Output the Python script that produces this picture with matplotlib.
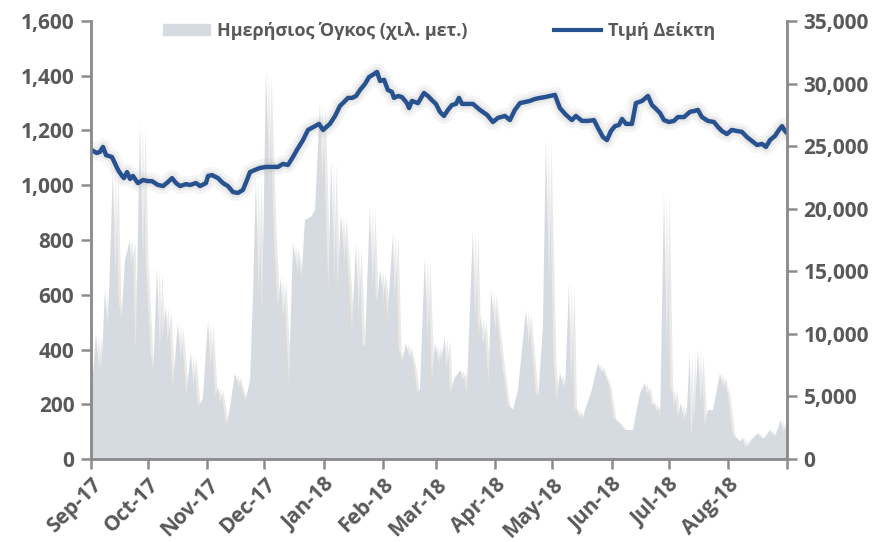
import numpy as np
import matplotlib
matplotlib.use("Agg")
import matplotlib.pyplot as plt
import matplotlib.patheffects as pe
from matplotlib.lines import Line2D
import pandas as pd

# data (days counted from 1 Sep 2017)
start = pd.Timestamp("2017-09-01")

price_day = [0, 3.1, 4.7, 6.3, 7.9, 11.0, 14.2, 16.3, 17.3, 18.9, 20.5, 22.0, 24.6, 27.3, 29.9,
             32.0, 35.1, 37.8, 40.4, 42.5, 44.6, 46.7, 49.8, 52.0, 55.1, 57.2, 60.3, 61.4, 63.5,
             66.6, 69.2, 71.8, 74.5, 77.1, 79.7, 81.8, 83.4, 86.0, 88.6, 91.8, 95.0, 98.1, 100.7,
             103.3, 105.9, 108.0, 111.2, 113.8, 117.5, 119.6, 121.7, 125.3, 128.0, 130.6, 132.7,
             134.8, 136.9, 139.0, 141.1, 143.7, 145.8, 148.4, 150.0, 151.6, 153.7, 155.7, 157.8,
             158.9, 161.0, 163.1, 165.7, 166.8, 168.3, 171.5, 174.6, 176.7, 178.8, 180.9, 183.0,
             185.1, 187.2, 189.3, 191.4, 193.0, 194.6, 197.2, 200.3, 204.0, 207.7, 210.8, 213.4,
             217.1, 219.7, 222.3, 225.0, 227.6, 230.2, 232.8, 235.5, 238.1, 243.3, 245.9, 249.1,
             252.2, 254.3, 257.5, 260.6, 263.8, 265.9, 268.5, 270.6, 272.7, 274.8, 276.9, 278.5,
             280.6, 283.7, 285.8, 289.0, 292.1, 294.2, 296.3, 298.4, 300.5, 303.1, 305.7, 307.8,
             311.0, 314.1, 316.2, 318.3, 320.4, 323.5, 326.7, 328.8, 330.9, 333.5, 336.1, 338.8,
             341.4, 344.0, 346.6, 349.3, 351.9, 354.0, 356.1, 358.7, 360.8, 362.4, 364.0, 365.0]
price = [1129, 1118, 1122, 1140, 1110, 1103, 1056, 1034, 1026, 1048, 1023, 1034, 1008, 1019, 1015,
         1015, 1001, 997, 1012, 1026, 1008, 997, 1004, 1001, 1008, 997, 1008, 1034, 1037,
         1026, 1008, 997, 975, 972, 983, 1019, 1048, 1056, 1063, 1067, 1067, 1067, 1078,
         1074, 1103, 1129, 1165, 1202, 1216, 1224, 1202, 1224, 1253, 1290, 1304,
         1319, 1319, 1326, 1348, 1370, 1395, 1406, 1414, 1381, 1385, 1348, 1341,
         1319, 1326, 1322, 1300, 1282, 1308, 1300, 1337, 1326, 1311, 1297, 1268,
         1253, 1275, 1293, 1297, 1319, 1297, 1297, 1297, 1275, 1257, 1231, 1246,
         1253, 1238, 1275, 1300, 1304, 1308, 1315, 1319, 1322, 1330, 1282, 1257,
         1238, 1253, 1235, 1235, 1238, 1209, 1176, 1165, 1198, 1216, 1220, 1242,
         1224, 1224, 1300, 1308, 1326, 1293, 1279, 1264, 1238, 1231, 1235, 1249,
         1249, 1268, 1271, 1275, 1249, 1235, 1231, 1213, 1198, 1187, 1202, 1198,
         1195, 1176, 1162, 1147, 1151, 1140, 1165, 1180, 1202, 1216, 1198, 1191]

vol_day = [0, 2.6, 5.2, 7.3, 8.9, 11.5, 13.1, 15.7, 17.8, 20.5, 22.0, 23.6, 25.7, 27.3, 29.9,
           32.5, 34.6, 36.2, 39.3, 42.0, 45.6, 49.3, 52.4, 54.5, 55.6, 58.7, 61.4, 64.0, 66.6,
           70.3, 72.9, 75.5, 78.1, 80.8, 83.4, 85.0, 86.5, 89.1, 91.8, 94.4, 97.0, 99.6, 103.3,
           105.9, 110.1, 112.2, 115.4, 117.5, 120.1, 122.7, 124.3, 125.9, 128.5, 131.1, 133.7,
           136.3, 139.0, 141.1, 143.7, 146.3, 147.9, 150.0, 151.6, 153.1, 154.7, 158.4, 160.0,
           162.6, 165.2, 167.8, 169.9, 172.5, 175.1, 177.8, 180.4, 183.0, 185.6, 187.2, 188.8,
           190.9, 194.0, 196.7, 200.3, 201.9, 204.5, 208.2, 209.8, 214.5, 217.1, 221.3, 223.9,
           228.1, 231.8, 234.4, 237.0, 238.6, 241.2, 243.3, 245.9, 248.6, 250.7, 252.2, 254.3,
           257.0, 259.6, 262.2, 265.9, 270.1, 272.7, 275.3, 277.9, 280.6, 284.2, 287.9, 290.5,
           293.1, 295.8, 298.4, 300.5, 302.6, 304.7, 306.8, 309.4, 312.0, 314.1, 314.6, 316.7,
           318.3, 320.9, 323.5, 326.2, 329.9, 332.5, 335.1, 337.7, 340.3, 341.9, 343.5, 346.1,
           349.8, 352.4, 356.1, 358.7, 361.8, 363.9, 365.0]
volume = [4470, 10070, 5750, 13500, 10550, 23100, 12700, 10300, 15900, 17500, 8150, 9500, 26850, 15900, 8470,
          6070, 15340, 8470, 12150, 4150, 10870, 4070, 8470, 4710, 3910, 4870, 11100, 4470, 5750,
          2080, 4150, 6870, 5510, 4470, 6310, 13260, 22530, 6070, 31080, 18540, 10550, 14540, 3280,
          17260, 13740, 19100, 19340, 19900, 28440, 15340, 11100, 23900, 10870, 19650, 14540,
          8470, 17260, 8950, 9110, 20130, 13260, 12150, 15100, 13500, 9500, 18060, 8950,
          7350, 9270, 7670, 5270, 5510, 16140, 4470, 9270, 7350, 9750, 4470, 5510,
          6550, 7110, 3910, 18300, 8710, 11350, 4150, 13500, 7350, 4470, 3910, 5510,
          11900, 5510, 4710, 10550, 25490, 7990, 3670, 6870, 5510, 14060, 3120, 4150,
          2880, 4150, 5270, 7670, 6070, 3360, 3120, 2560, 2320, 2320, 5270, 6070,
          4150, 4470, 2320, 21250, 4470, 5750, 2560, 4470, 2320, 8710, 1520, 3910,
          8710, 1760, 3910, 3910, 6870, 5270, 2080, 1760, 1280, 1760, 720, 1520,
          2080, 1520, 2320, 1760, 3120, 1760, 1760]

month_ticks = pd.date_range("2017-09-01", "2018-09-01", freq="MS")
month_labels = ["Sep-17", "Oct-17", "Nov-17", "Dec-17", "Jan-18", "Feb-18", "Mar-18",
                "Apr-18", "May-18", "Jun-18", "Jul-18", "Aug-18", ""]

price_dates = start + pd.to_timedelta(price_day, unit="D")
vol_dates = start + pd.to_timedelta(vol_day, unit="D")

grey = "#595959"
blue = "#27528f"
plt.rcParams['font.family'] = ['Open Sans', 'DejaVu Sans']

fig = plt.figure(figsize=(8.79, 5.42), dpi=100)
ax = fig.add_axes([0.1035, 0.1531, 0.7918, 0.8082])
ax2 = ax.twinx()

# volume area (right axis), drawn under the line
area = ax2.fill_between(vol_dates, volume, 0, color="#d6dbe2", linewidth=0)
area.set_path_effects([pe.SimplePatchShadow(offset=(4, -3), shadow_rgbFace="#8a8a8a", alpha=0.18),
                       pe.SimplePatchShadow(offset=(2, -1), shadow_rgbFace="#9a9a9a", alpha=0.18),
                       pe.Normal()])

# price line (left axis), soft shadow
ax.plot(price_dates, price, color="#b0b0b0", linewidth=12, alpha=0.12,
        solid_capstyle="round", zorder=1)
ax.plot(price_dates, price, color="#a0a0a0", linewidth=7, alpha=0.15,
        solid_capstyle="round", zorder=1)
ax.plot(price_dates, price, color=blue, linewidth=3.2, zorder=2)
ax.set_zorder(ax2.get_zorder() + 1)
ax.patch.set_visible(False)

ax.set_ylim(0, 1600)
ax.set_yticks(np.arange(0, 1601, 200))
ax.yaxis.set_major_formatter(matplotlib.ticker.StrMethodFormatter("{x:,.0f}"))
ax2.set_ylim(0, 35000)
ax2.set_yticks(np.arange(0, 35001, 5000))
ax2.yaxis.set_major_formatter(matplotlib.ticker.StrMethodFormatter("{x:,.0f}"))

ax.set_xlim(month_ticks[0], month_ticks[-1])
ax.set_xticks(month_ticks)
ax.set_xticklabels(month_labels, rotation=45, ha="right", rotation_mode="anchor")

for a in (ax, ax2):
    for s in a.spines.values():
        s.set_color("#8c8c8c")
        s.set_linewidth(1.8)
    a.spines["top"].set_visible(False)
    a.tick_params(colors="#8c8c8c", width=1.8, length=7, labelcolor=grey, labelsize=15)
    for t in a.get_yticklabels() + a.get_xticklabels():
        t.set_fontweight("bold")
ax.tick_params(axis="x", pad=4)
ax.tick_params(axis="y", pad=5)
ax2.tick_params(axis="y", pad=5)

handles = [plt.Rectangle((0, 0), 1, 1, color="#d6dbe2"),
           Line2D([], [], color=blue, linewidth=3)]
leg = ax.legend(handles, ["Ημερήσιος Όγκος (χιλ. μετ.)", "Τιμή Δείκτη"], loc="upper center",
                bbox_to_anchor=(0.5, 1.035), ncol=2, frameon=False, handlelength=2.6,
                handleheight=0.6, columnspacing=4.8, handletextpad=0.4,
                prop={"weight": "bold", "size": 13})
for t in leg.get_texts():
    t.set_color(grey)

fig.savefig("out.png", dpi=100)
